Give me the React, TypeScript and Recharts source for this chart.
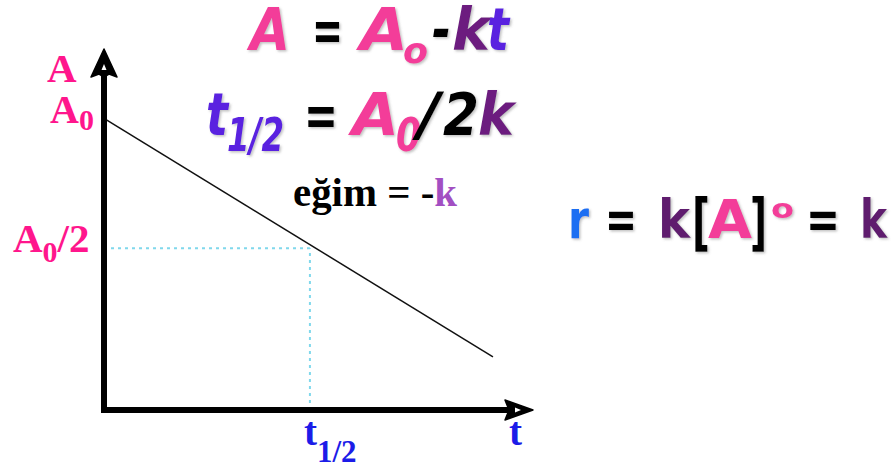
import { LineChart, Line, XAxis, YAxis, ReferenceLine, ReferenceDot } from 'recharts';

// zero-order kinetics: concentration falls linearly with time
const T_DOMAIN = [0, 100];
const A_DOMAIN = [0, 120];
const LINE_T = [0, 93.5];
const LINE_A = [100, 18.2];
const A0 = 100;
const HALF_A = 55.5;
const HALF_T = 49.5;
const Y_TICKS = [HALF_A, A0];
const Y_TICK_LABELS = ['A0/2', 'A0'];
const X_TICKS = [HALF_T];
const X_TICK_LABELS = ['t1/2'];

const lineData = LINE_T.map((t, i) => ({ t, a: LINE_A[i] }));

const SERIF = '"Liberation Serif", "Times New Roman", serif';
const SANS = '"DejaVu Sans", Verdana, sans-serif';
const LABEL_PINK = '#ff168c';
const LABEL_BLUE = '#1c1ce8';
const PINK = '#f33d99';
const PURPLE = '#6c1e7f';
const DARK_PURPLE = '#5e1a6e';
const VIOLET = '#5a22e0';
const BLUE = '#1a6ef2';

type Piece = { s: string; x: number; w: number; y: number; size: number; color: string; italic?: boolean };

const FORMULA_1: Piece[] = [
  { s: 'A', x: 250, w: 40, y: 50, size: 58, color: PINK, italic: true },
  { s: '=', x: 312, w: 31, y: 50, size: 58, color: '#000' },
  { s: 'A', x: 360, w: 48, y: 50, size: 58, color: PINK, italic: true },
  { s: 'o', x: 403, w: 25, y: 63, size: 36, color: PINK, italic: true },
  { s: '-', x: 432, w: 19, y: 50, size: 58, color: '#000', italic: true },
  { s: 'k', x: 452, w: 38, y: 50, size: 58, color: PURPLE, italic: true },
  { s: 't', x: 487, w: 22, y: 50, size: 58, color: VIOLET, italic: true },
];

const FORMULA_2: Piece[] = [
  { s: 't', x: 206, w: 22, y: 135, size: 58, color: VIOLET, italic: true },
  { s: '1/2', x: 227, w: 57, y: 151, size: 46, color: VIOLET, italic: true },
  { s: '=', x: 304, w: 34, y: 135, size: 58, color: '#000' },
  { s: 'A', x: 352, w: 47, y: 135, size: 58, color: PINK, italic: true },
  { s: '0', x: 396, w: 25, y: 151, size: 46, color: PINK, italic: true },
  { s: '/', x: 418, w: 22, y: 135, size: 58, color: '#000', italic: true },
  { s: '2', x: 443, w: 36, y: 135, size: 58, color: '#000', italic: true },
  { s: 'k', x: 478, w: 36, y: 135, size: 58, color: PURPLE, italic: true },
];

const FORMULA_3: Piece[] = [
  { s: 'r', x: 568, w: 21, y: 238, size: 54, color: BLUE },
  { s: '=', x: 605, w: 32, y: 238, size: 54, color: '#000' },
  { s: 'k', x: 658, w: 32, y: 238, size: 54, color: DARK_PURPLE },
  { s: '[', x: 692, w: 18, y: 243, size: 62, color: '#000' },
  { s: 'A', x: 708, w: 44, y: 238, size: 54, color: PINK },
  { s: ']', x: 750, w: 17, y: 243, size: 62, color: '#000' },
  { s: 'o', x: 771, w: 23, y: 218, size: 26, color: PINK },
  { s: '=', x: 806, w: 34, y: 238, size: 54, color: '#000' },
  { s: 'k', x: 860, w: 27, y: 238, size: 54, color: DARK_PURPLE },
];

function Formula({ pieces }: { pieces: Piece[] }) {
  return (
    <g fontFamily={SANS} fontWeight={700} filter="url(#soft-shadow)">
      {pieces.map((p, i) => (
        <text
          key={i}
          x={p.x}
          y={p.y}
          fontSize={p.size}
          fill={p.color}
          fontStyle={p.italic ? 'italic' : 'normal'}
          textLength={p.w}
          lengthAdjust="spacingAndGlyphs"
        >
          {p.s}
        </text>
      ))}
    </g>
  );
}

const YTick = ({ x, y, payload }: any) => {
  const label = Y_TICK_LABELS[Y_TICKS.indexOf(payload.value)];
  if (label === 'A0') {
    return (
      <text x={x - 54} y={y + 5} fontFamily={SERIF} fontWeight={700} fontSize={40} fill={LABEL_PINK}>
        A<tspan dy={7} fontSize={30}>0</tspan>
      </text>
    );
  }
  return (
    <text x={x - 91} y={y + 4} fontFamily={SERIF} fontWeight={700} fontSize={41} fill={LABEL_PINK}>
      A<tspan dy={10} fontSize={30}>0</tspan>
      <tspan dy={-10}>/2</tspan>
    </text>
  );
};

const XTick = ({ x, y, payload }: any) => {
  const label = X_TICK_LABELS[X_TICKS.indexOf(payload.value)];
  return (
    <text x={x - 6} y={y + 35} fontFamily={SERIF} fontWeight={700} fontSize={39} fill={LABEL_BLUE}>
      {label.charAt(0)}
      <tspan dy={17} fontSize={31}>{label.slice(1)}</tspan>
    </text>
  );
};

const UpArrow = ({ cx, cy }: any) => (
  <g transform={`translate(${cx},${cy})`}>
    <path d="M0,-11 L13,17 L5,14 L0,17 L-5,14 L-13,17 Z" fill="#000" stroke="#000" strokeWidth={1.5} strokeLinejoin="round" />
    <path d="M0,4 L2.5,10 L-2.5,10 Z" fill="#fff" />
  </g>
);

const RightArrow = ({ cx, cy }: any) => (
  <g transform={`translate(${cx},${cy})`}>
    <path d="M13,0 L-15,-10 L-11,0 L-15,10 Z" fill="#000" stroke="#000" strokeWidth={1.5} strokeLinejoin="round" />
    <path d="M1,0 L-5,-2.5 L-5,2.5 Z" fill="#fff" />
  </g>
);

export default function App() {
  return (
    <div style={{ position: 'relative', width: 896, height: 466, background: '#fff' }}>
      <style>{`body{margin:0}`}</style>
      <LineChart width={896} height={466} data={lineData} margin={{ top: 60, right: 376, bottom: 55, left: 103 }}>
        <XAxis
          type="number"
          dataKey="t"
          domain={T_DOMAIN}
          allowDataOverflow
          ticks={X_TICKS}
          interval={0}
          height={1}
          tickSize={0}
          tickMargin={0}
          tickLine={false}
          tick={<XTick />}
          axisLine={{ stroke: '#000', strokeWidth: 6, strokeLinecap: 'square' }}
        />
        <YAxis
          type="number"
          domain={A_DOMAIN}
          allowDataOverflow
          ticks={Y_TICKS}
          interval={0}
          width={1}
          tickSize={0}
          tickMargin={0}
          tickLine={false}
          tick={<YTick />}
          axisLine={{ stroke: '#000', strokeWidth: 6, strokeLinecap: 'square' }}
        />
        <ReferenceLine
          segment={[{ x: 0, y: HALF_A }, { x: HALF_T, y: HALF_A }]}
          stroke="#80d8ec"
          strokeWidth={2}
          strokeDasharray="3 4"
        />
        <ReferenceLine
          segment={[{ x: HALF_T, y: 0 }, { x: HALF_T, y: HALF_A }]}
          stroke="#80d8ec"
          strokeWidth={2}
          strokeDasharray="3 4"
        />
        <Line
          type="linear"
          dataKey="a"
          stroke="#111"
          strokeWidth={1.5}
          dot={false}
          activeDot={false}
          isAnimationActive={false}
        />
        <ReferenceDot x={T_DOMAIN[0]} y={A_DOMAIN[1]} r={1} shape={UpArrow} />
        <ReferenceDot x={T_DOMAIN[1]} y={A_DOMAIN[0]} r={1} shape={RightArrow} />
      </LineChart>
      <svg width={896} height={466} style={{ position: 'absolute', left: 0, top: 0, pointerEvents: 'none' }}>
        <defs>
          <filter id="soft-shadow" x="-20%" y="-20%" width="140%" height="140%">
            <feDropShadow dx="1.5" dy="1.5" stdDeviation="1" floodColor="#777" floodOpacity="0.45" />
          </filter>
        </defs>
        <text x={47} y={82} fontFamily={SERIF} fontWeight={700} fontSize={41} fill={LABEL_PINK}>
          A
        </text>
        <text x={509} y={445} fontFamily={SERIF} fontWeight={700} fontSize={39} fill={LABEL_BLUE}>
          t
        </text>
        <text x={293} y={206} fontFamily={SERIF} fontWeight={700} fontSize={39} fill="#000" textLength={164} lengthAdjust="spacingAndGlyphs">
          eğim = -<tspan fill="#a24fc2">k</tspan>
        </text>
        <Formula pieces={FORMULA_1} />
        <Formula pieces={FORMULA_2} />
        <Formula pieces={FORMULA_3} />
      </svg>
    </div>
  );
}
